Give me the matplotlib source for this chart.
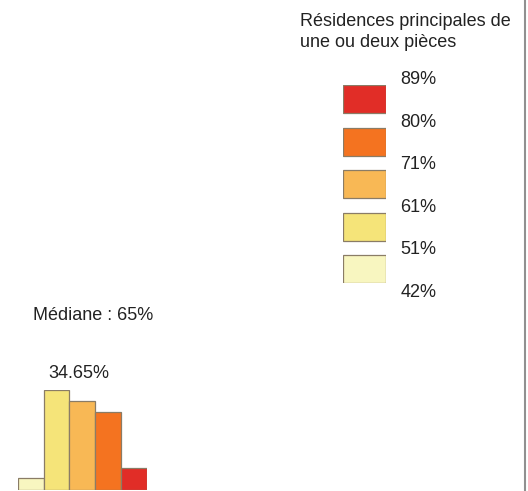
import matplotlib
matplotlib.use('Agg')
import matplotlib.pyplot as plt
from matplotlib.lines import Line2D

plt.rcParams['font.family'] = ['Liberation Sans', 'DejaVu Sans']

# class colours, lowest class first
colors = ['#f8f6c0', '#f5e479', '#f8b855', '#f47320', '#e12d27']
# class limits (%)
bounds = ['42%', '51%', '61%', '71%', '80%', '89%']
# share of communes in each class (%)
shares = [4.1, 34.65, 30.9, 26.9, 7.5]
median_label = 'Médiane : 65%'
legend_title = ['Résidences principales de', 'une ou deux pièces']

W, H = 528, 491
fig = plt.figure(figsize=(W / 100, H / 100), dpi=100)
fs = 13

def px_axes(x0, y0, x1, y1):
    # axes from pixel box (top-left origin)
    return fig.add_axes([x0 / W, 1 - y1 / H, (x1 - x0) / W, (y1 - y0) / H])

# histogram
ax = px_axes(18, 390, 146.5, 490)
ax.bar(range(len(shares)), shares, width=1.0, color=colors,
       edgecolor='#8a7c66', linewidth=0.9)
ax.set_xlim(-0.5, len(shares) - 0.5)
ax.set_ylim(0, max(shares))
ax.axis('off')
imax = shares.index(max(shares))
ax.text(imax - 0.32, max(shares) * 1.08, '%.2f%%' % max(shares),
        fontsize=fs, ha='left', va='bottom', color='#222222', clip_on=False)
fig.text(33 / W, 1 - 320 / H, median_label, fontsize=fs, ha='left',
         va='baseline', color='#222222')

# legend
lax = px_axes(343, 85, 386, 283)
box_h = 28 / 42.5
for i, c in enumerate(colors):
    lax.bar(0.5, box_h, width=1.0, bottom=i, color=c,
            edgecolor='#8a7c66', linewidth=0.9)
for k, lab in enumerate(bounds):
    lax.text(1.33, k - 0.22, lab, fontsize=fs, ha='left', va='center',
             color='#222222', clip_on=False)
lax.set_xlim(0, 1)
lax.set_ylim(0, len(colors) - 1 + box_h)
lax.axis('off')

for j, line in enumerate(legend_title):
    fig.text(300 / W, 1 - (26 + 21 * j) / H, line, fontsize=fs, ha='left',
             va='baseline', color='#222222')

# frame edge on the right
fig.add_artist(Line2D([524.5 / W, 524.5 / W], [1 / H, 1], color='#909090',
                      linewidth=1.5, transform=fig.transFigure))

fig.savefig('out.png', dpi=100)
